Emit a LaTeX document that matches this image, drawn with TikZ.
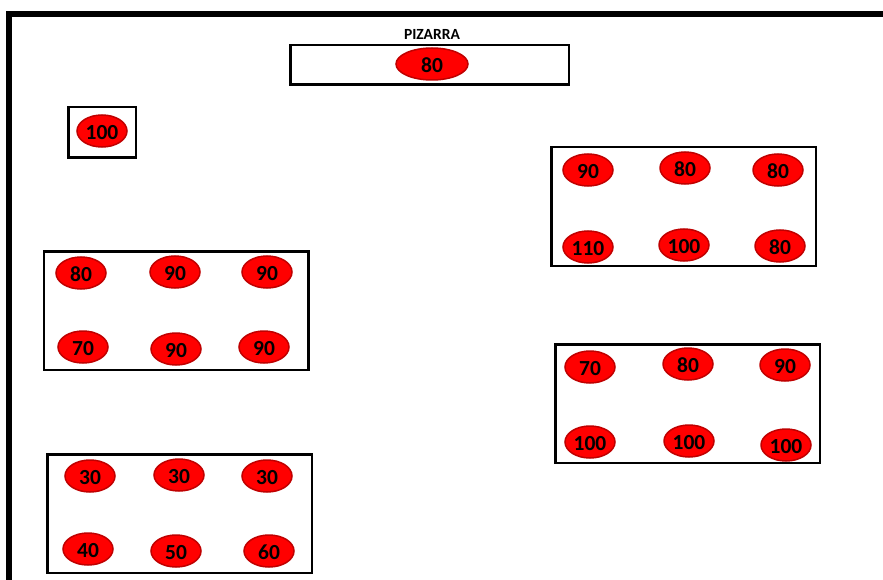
\documentclass[tikz,border=0pt]{standalone}
\usepackage{fontspec}
\setmainfont{Carlito}
\usetikzlibrary{shapes.geometric}
\definecolor{seatred}{HTML}{FF0000}
\definecolor{seatedge}{HTML}{C00000}
\begin{document}
\begin{tikzpicture}[x=1pt,y=-1pt,
  seat/.style={ellipse,draw=seatedge,line width=1.5pt,fill=seatred,minimum width=50pt,minimum height=32pt,inner sep=0pt,text height=17pt,text depth=0pt,font=\fontsize{21.5}{22}\selectfont\bfseries,text=black},
  tablebox/.style={draw=black,line width=2.5pt,fill=white,rectangle,inner sep=0pt},
  grp/.style={tablebox,minimum width=264.5pt,minimum height=118.5pt}]
\useasboundingbox (0,0) rectangle (883,580);
\fill[white] (0,0) rectangle (883,580);
\coordinate (bl) at (8.5,580);
\coordinate (tl) at (8.5,14.5);
\coordinate (tr) at (883,14.5);
\draw[line width=6pt] (bl) -- (tl) -- (tr);
% pizarra
\node[font=\fontsize{15.5}{17}\selectfont\bfseries] (ptext) at (432,34) {PIZARRA};
\node[tablebox,minimum width=278.5pt,minimum height=39.5pt] (pbox) at (429.5,65) {};
\node[seat,minimum width=72pt] (p80) at (432,64) {80};
% small box
\node[tablebox,minimum width=67.5pt,minimum height=50.5pt] (sbox) at (102,132.5) {};
\node[seat] (s100) at (102,131) {100};
% left middle
\node[grp] (lm) at (176,310.5) {};
\node[seat] (lm1) at (81,273) {80};
\node[seat] (lm2) at (175,272) {90};
\node[seat] (lm3) at (267,272) {90};
\node[seat] (lm4) at (83,347) {70};
\node[seat] (lm5) at (176,349) {90};
\node[seat] (lm6) at (264,347) {90};
% right top
\node[grp] (rt) at (683.5,206.5) {};
\node[seat] (rt1) at (588,170) {90};
\node[seat] (rt2) at (685,168) {80};
\node[seat] (rt3) at (778,170) {80};
\node[seat] (rt4) at (588,247) {110};
\node[seat] (rt5) at (684,245) {100};
\node[seat] (rt6) at (780,246) {80};
% right lower
\node[grp] (rl) at (687.5,403.5) {};
\node[seat] (rl1) at (590,367) {70};
\node[seat] (rl2) at (688,364) {80};
\node[seat] (rl3) at (785,365) {90};
\node[seat] (rl4) at (590,442) {100};
\node[seat] (rl5) at (689,441) {100};
\node[seat] (rl6) at (786,445) {100};
% bottom left
\node[grp] (bb) at (179.5,513.5) {};
\node[seat] (bb1) at (90,476) {30};
\node[seat] (bb2) at (179,475) {30};
\node[seat] (bb3) at (267,476) {30};
\node[seat] (bb4) at (88,549) {40};
\node[seat] (bb5) at (176,551) {50};
\node[seat] (bb6) at (269,551) {60};
\end{tikzpicture}
\end{document}
